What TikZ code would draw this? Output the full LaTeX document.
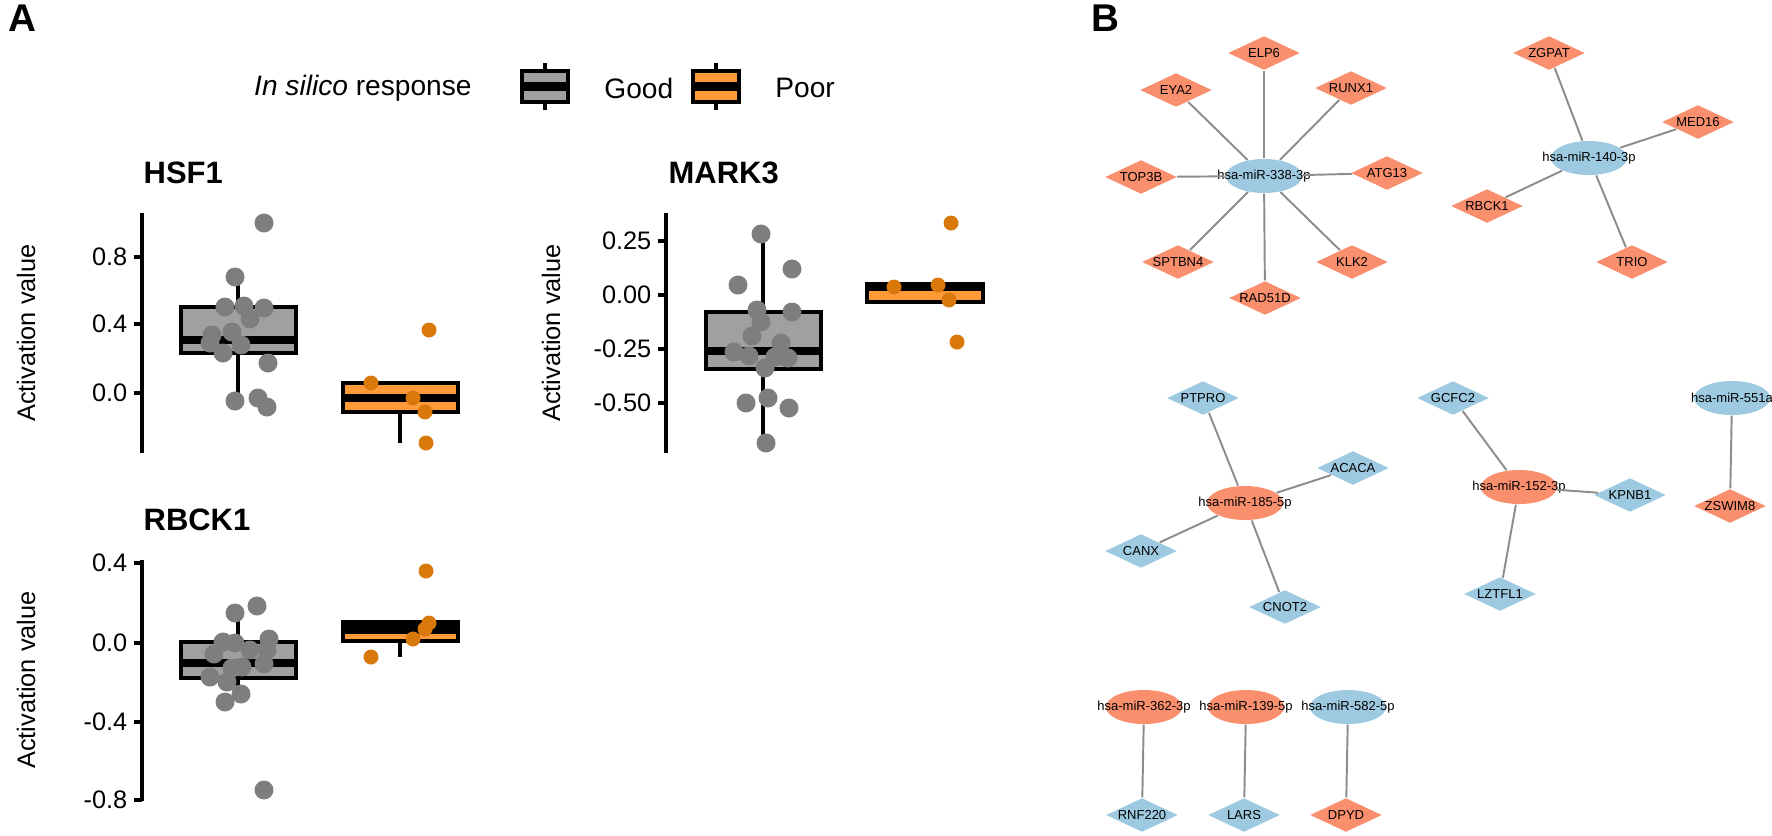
\documentclass[tikz,border=0pt]{standalone}
\usepackage{fontspec}
\setmainfont{Liberation Sans}
\usetikzlibrary{shapes.geometric}
\definecolor{salmon}{HTML}{FA8F6E}
\definecolor{skyblue}{HTML}{9ECAE1}
\definecolor{goodfill}{HTML}{A0A0A0}
\definecolor{gooddot}{HTML}{7E7E7E}
\definecolor{poorfill}{HTML}{FF9A38}
\definecolor{poordot}{HTML}{D9790C}
\tikzset{
  mirna/.style={ellipse,draw=none,inner sep=0pt,minimum width=0.76cm,minimum height=0.34cm},
  target/.style={diamond,draw=none,inner sep=0pt,aspect=2.1,minimum width=0.72cm,minimum height=0.34cm},
  nettext/.style={font=\fontsize{3.7}{4}\selectfont},
  link/.style={draw=gray!90,line width=0.55pt},
  boxline/.style={line width=0.9pt},
  medline/.style={line width=2.4pt},
  ticklab/.style={anchor=east,font=\fontsize{7.2}{8}\selectfont,inner sep=0pt},
  ytitle/.style={rotate=90,font=\fontsize{7.2}{8}\selectfont},
  ptitle/.style={anchor=west,font=\fontsize{8.8}{10}\bfseries\selectfont,inner sep=0pt},
}
\begin{document}
\begin{tikzpicture}[x=0.01cm,y=-0.01cm]
  \useasboundingbox (0,0) rectangle (1772,835);
  %panel letters
  \node[font=\fontsize{11}{12}\bfseries\selectfont] (letA) at (22,18) {A};
  \node[font=\fontsize{11}{12}\bfseries\selectfont] (letB) at (1105,18) {B};
  %legend
  \node[anchor=east,font=\fontsize{8}{9}\selectfont] (legtitle) at (484,88) {\textit{In silico} response};
  \draw[boxline] (545,63) -- (545,110);
  \draw[boxline,fill=goodfill] (522,71) rectangle (568,102);
  \draw[medline] (522,86.5) -- (568,86.5);
  \node[anchor=west,font=\fontsize{8}{9}\selectfont] (leggood) at (592,88) {Good};
  \draw[boxline] (716,63) -- (716,110);
  \draw[boxline,fill=poorfill] (693,71) rectangle (739,102);
  \draw[medline] (693,86.5) -- (739,86.5);
  \node[anchor=west,font=\fontsize{8}{9}\selectfont] (legpoor) at (763,88) {Poor};
  %HSF1
  \node[ptitle] (thsf) at (143,173) {HSF1};
  \node[ytitle] (yhsf) at (26,333) {Activation value};
  \draw[line width=1pt] (142,213) -- (142,453);
  \foreach \v/\y in {0.8/257,0.4/324,0.0/393}{
    \draw[line width=1pt] (134,\y) -- (142,\y);
    \node[ticklab] at (128,\y) {\v};
  }
  \draw[boxline] (238,283) -- (238,398);
  \draw[boxline,fill=goodfill] (181,307) rectangle (296,353);
  \draw[medline] (181,340) -- (296,340);
  \draw[boxline] (400,412) -- (400,443);
  \draw[boxline,fill=poorfill] (343,383) rectangle (458,412);
  \draw[medline] (343,398) -- (458,398);
  \foreach \x/\y in {264/223,235/277,225/307,244/306,264/308,250/319,212/335,232/332,210/343,241/345,223/353,268/363,235/401,258/398,267/407}
    \fill[gooddot] (\x,\y) circle (9.5);
  \foreach \x/\y in {371/383,413/398,425/412,429/330,426/443}
    \fill[poordot] (\x,\y) circle (7.5);
  %MARK3
  \node[ptitle] (tmark) at (668,173) {MARK3};
  \node[ytitle] (ymark) at (551,333) {Activation value};
  \draw[line width=1pt] (666,213) -- (666,453);
  \foreach \v/\y in {0.25/241,0.00/295,-0.25/349,-0.50/403}{
    \draw[line width=1pt] (658,\y) -- (666,\y);
    \node[ticklab] at (652,\y) {\v};
  }
  \draw[boxline] (763,233) -- (763,443);
  \draw[boxline,fill=goodfill] (706,312) rectangle (821,369);
  \draw[medline] (706,351) -- (821,351);
  \draw[boxline,fill=poorfill] (867,284) rectangle (983,302);
  \draw[medline] (867,287) -- (983,287);
  \foreach \x/\y in {761/234,792/269,738/285,757/310,792/312,761/322,752/336,781/343,734/352,749/356,775/357,788/358,765/368,746/403,768/398,789/408,766/443}
    \fill[gooddot] (\x,\y) circle (9.5);
  \foreach \x/\y in {894/287,938/285,949/300,957/342,951/223}
    \fill[poordot] (\x,\y) circle (7.5);
  %RBCK1
  \node[ptitle] (trbck) at (143,520) {RBCK1};
  \node[ytitle] (yrbck) at (26,680) {Activation value};
  \draw[line width=1pt] (142,560) -- (142,801);
  \foreach \v/\y in {0.4/563,0.0/643,-0.4/722,-0.8/800}{
    \draw[line width=1pt] (134,\y) -- (142,\y);
    \node[ticklab] at (128,\y) {\v};
  }
  \draw[boxline] (238,620) -- (238,687);
  \draw[boxline,fill=goodfill] (181,642) rectangle (296,678);
  \draw[medline] (181,663) -- (296,663);
  \draw[boxline] (400,641) -- (400,657);
  \draw[boxline,fill=poorfill] (343,622) rectangle (458,641);
  \draw[line width=3.6pt] (343,627.5) -- (458,627.5);
  \foreach \x/\y in {235/613,257/606,223/642,235/643,269/639,214/654,250/650,267/650,264/664,232/668,242/667,210/677,227/682,241/694,225/702,264/790}
    \fill[gooddot] (\x,\y) circle (9.5);
  \foreach \x/\y in {426/571,429/623,425/629,413/639,371/657}
    \fill[poordot] (\x,\y) circle (7.5);
  %network: hsa-miR-338-3p
  \begin{scope}[every node/.append style={nettext}]
  \node[mirna,fill=skyblue,label=center:{hsa-miR-338-3p}] (m338) at (1264,176) {};
  \node[target,fill=salmon] (elp6) at (1264,53) {ELP6};
  \node[target,fill=salmon] (eya2) at (1176,90) {EYA2};
  \node[target,fill=salmon] (runx1) at (1351,88) {RUNX1};
  \node[target,fill=salmon] (top3b) at (1141,177) {TOP3B};
  \node[target,fill=salmon] (atg13) at (1387,173) {ATG13};
  \node[target,fill=salmon] (sptbn4) at (1178,262) {SPTBN4};
  \node[target,fill=salmon] (klk2) at (1352,262) {KLK2};
  \node[target,fill=salmon] (rad51d) at (1265,298) {RAD51D};
  %hsa-miR-140-3p
  \node[mirna,fill=skyblue,label=center:{hsa-miR-140-3p}] (m140) at (1589,158) {};
  \node[target,fill=salmon] (zgpat) at (1549,53) {ZGPAT};
  \node[target,fill=salmon] (med16) at (1698,122) {MED16};
  \node[target,fill=salmon] (rbck1) at (1487,206) {RBCK1};
  \node[target,fill=salmon] (trio) at (1632,262) {TRIO};
  %hsa-miR-185-5p
  \node[mirna,fill=salmon,label=center:{hsa-miR-185-5p}] (m185) at (1245,503) {};
  \node[target,fill=skyblue] (ptpro) at (1203,398) {PTPRO};
  \node[target,fill=skyblue] (acaca) at (1353,468) {ACACA};
  \node[target,fill=skyblue] (canx) at (1141,551) {CANX};
  \node[target,fill=skyblue] (cnot2) at (1285,607) {CNOT2};
  %hsa-miR-152-3p
  \node[mirna,fill=salmon,label=center:{hsa-miR-152-3p}] (m152) at (1519,487) {};
  \node[target,fill=skyblue] (gcfc2) at (1453,398) {GCFC2};
  \node[target,fill=skyblue] (kpnb1) at (1630,495) {KPNB1};
  \node[target,fill=skyblue] (lztfl1) at (1500,594) {LZTFL1};
  %hsa-miR-551a
  \node[mirna,fill=skyblue,label=center:{hsa-miR-551a}] (m551) at (1732,398) {};
  \node[target,fill=salmon] (zswim8) at (1730,506) {ZSWIM8};
  %pairs
  \node[mirna,fill=salmon,label=center:{hsa-miR-362-3p}] (m362) at (1144,707) {};
  \node[mirna,fill=salmon,label=center:{hsa-miR-139-5p}] (m139) at (1246,707) {};
  \node[mirna,fill=skyblue,label=center:{hsa-miR-582-5p}] (m582) at (1348,707) {};
  \node[target,fill=skyblue] (rnf220) at (1142,815) {RNF220};
  \node[target,fill=skyblue] (lars) at (1244,815) {LARS};
  \node[target,fill=salmon] (dpyd) at (1346,815) {DPYD};
  \end{scope}
  \begin{scope}[on background layer/.style={}]
  \foreach \t in {elp6,eya2,runx1,top3b,atg13,sptbn4,klk2,rad51d}
    \draw[link] (m338) -- (\t);
  \foreach \t in {zgpat,med16,rbck1,trio}
    \draw[link] (m140) -- (\t);
  \foreach \t in {ptpro,acaca,canx,cnot2}
    \draw[link] (m185) -- (\t);
  \foreach \t in {gcfc2,kpnb1,lztfl1}
    \draw[link] (m152) -- (\t);
  \draw[link] (m551) -- (zswim8);
  \draw[link] (m362) -- (rnf220);
  \draw[link] (m139) -- (lars);
  \draw[link] (m582) -- (dpyd);
  \end{scope}
\end{tikzpicture}
\end{document}
